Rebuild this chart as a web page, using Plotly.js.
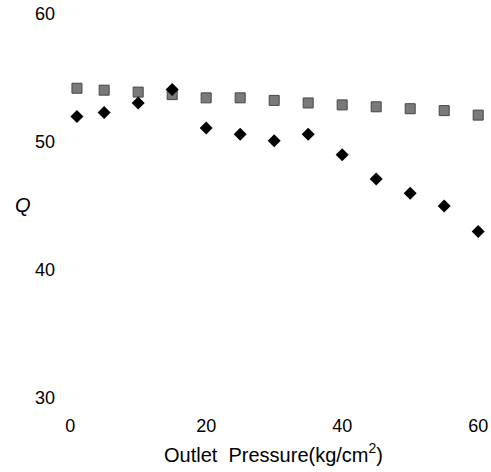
<!DOCTYPE html>
<html>
<head>
<meta charset="utf-8">
<script src="https://cdn.plot.ly/plotly-3.0.1.min.js"></script>
<style>html,body{margin:0;padding:0;background:#fff;}#chart{width:491px;height:472px;}</style>
</head>
<body>
<div id="chart"></div>
<script>
const pressure = [1, 5, 10, 15, 20, 25, 30, 35, 40, 45, 50, 55, 60];
const seriesSquare = [54.2, 54.05, 53.9, 53.7, 53.45, 53.45, 53.25, 53.05, 52.9, 52.75, 52.6, 52.45, 52.1];
const seriesDiamond = [52.0, 52.3, 53.05, 54.1, 51.1, 50.6, 50.1, 50.6, 49.0, 47.1, 46.0, 45.0, 43.0];
const xTicks = [0, 20, 40, 60];
const yTicks = [30, 40, 50, 60];

const traces = [
  {x: pressure, y: seriesSquare, mode: 'markers', type: 'scatter',
   marker: {symbol: 'square', size: 10, color: '#7a7a7a', line: {color: '#454545', width: 1}}},
  {x: pressure, y: seriesDiamond, mode: 'markers', type: 'scatter',
   marker: {symbol: 'diamond', size: 10, color: '#000000', line: {width: 0}}}
];

const tf = {size: 18, family: 'Liberation Sans, Arial, sans-serif', color: '#000'};

const layout = {
  width: 491, height: 472,
  margin: {l: 62, r: 6, t: 14, b: 74},
  paper_bgcolor: '#fff', plot_bgcolor: '#fff',
  showlegend: false,
  font: {family: 'Liberation Sans, Arial, sans-serif', color: '#000'},
  xaxis: {
    range: [-1.2, 61], tickvals: xTicks, ticktext: xTicks.map(String),
    showgrid: false, zeroline: false, showline: false, ticks: '',
    tickfont: tf,
    ticklabelstandoff: 15,
    title: {text: 'Outlet  Pressure(kg/cm<sup>2</sup>)', font: {size: 20, color: '#000'}, standoff: 12}
  },
  yaxis: {
    range: [30, 60], tickvals: yTicks, ticktext: yTicks.map(String),
    showgrid: false, zeroline: false, showline: false, ticks: '',
    tickfont: tf,
    ticklabelstandoff: 6
  },
  annotations: [{
    text: '<i>Q</i>', xref: 'paper', yref: 'paper', x: -0.116, y: 0.502,
    showarrow: false, font: {size: 20, color: '#000'}
  }]
};

Plotly.newPlot('chart', traces, layout, {displayModeBar: false, staticPlot: true});
</script>
</body>
</html>
